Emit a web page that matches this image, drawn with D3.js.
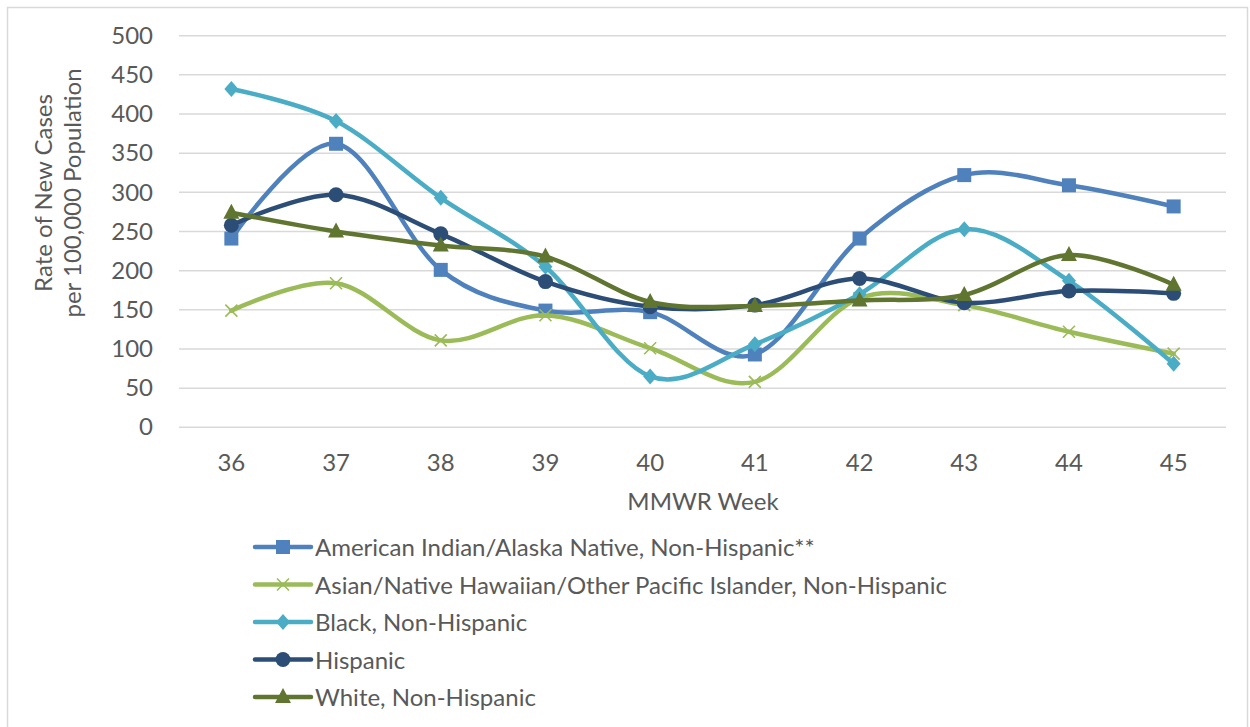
<!DOCTYPE html>
<html><head><meta charset="utf-8">
<script src="https://cdn.jsdelivr.net/npm/d3@7"></script>
<style>body{margin:0;background:#fff}svg{display:block}text{font-family:Lato,"Open Sans",sans-serif;fill:#595959}</style>
</head><body>
<script>
const weeks = [36,37,38,39,40,41,42,43,44,45];
const yTicks = [0,50,100,150,200,250,300,350,400,450,500];
const seriesNames = ["American Indian/Alaska Native, Non-Hispanic**","Asian/Native Hawaiian/Other Pacific Islander, Non-Hispanic","Black, Non-Hispanic","Hispanic","White, Non-Hispanic"];
const aian     = [241,362,201,149,147,93,241,322,309,282];
const asian    = [149,184,111,143,101,58,165,156,122,94];
const black    = [432,391,293,205,65,106,170,253,187,81];
const hispanic = [258,297,247,186,154,156,190,159,174,171];
const white    = [274,250,232,218,160,155,162,169,220,182];
const seriesValues = [aian, asian, black, hispanic, white];
const colors = ["#4F81BD","#9BBB59","#4BACC6","#2C4D75","#5F7530"];
const markers = ["square","x","diamond","circle","triangle"];

const W=1250,H=727;
const svg=d3.select("body").append("svg").attr("width",W).attr("height",H);
svg.append("rect").attr("x",7.5).attr("y",7.5).attr("width",W-10).attr("height",H+10).attr("fill","#fff").attr("stroke","#d9d9d9").attr("stroke-width",1.5);

const x=d3.scaleBand().domain(weeks).range([179,1226]);
const cx=d=>x(d)+x.bandwidth()/2;
const y=d3.scaleLinear().domain([0,500]).range([427.3,35.7]);

// gridlines
svg.append("g").selectAll("line").data(yTicks).join("line")
  .attr("x1",179).attr("x2",1226).attr("y1",d=>y(d)).attr("y2",d=>y(d))
  .attr("stroke","#d9d9d9").attr("stroke-width",1.5);

// y axis
const ya=svg.append("g").attr("transform","translate(179,0)").call(d3.axisLeft(y).tickValues(yTicks).tickSize(0).tickPadding(26));
ya.select(".domain").remove();
ya.selectAll("text").attr("font-size",24).style("font-family","Lato").attr("fill","#595959");
// x axis
const xa=svg.append("g").attr("transform","translate(0,427.3)").call(d3.axisBottom(x).tickSize(0).tickPadding(27));
xa.select(".domain").remove();
xa.selectAll("text").attr("font-size",24).style("font-family","Lato").attr("fill","#595959");

// titles
svg.append("text").attr("x",703).attr("y",510).attr("text-anchor","middle").attr("font-size",24).text("MMWR Week");
const yt=svg.append("text").attr("transform","rotate(-90)").attr("text-anchor","middle").attr("font-size",24);
yt.append("tspan").attr("x",-193).attr("y",52).text("Rate of New Cases");
yt.append("tspan").attr("x",-193).attr("y",81).text("per 100,000 Population");

const line=d3.line().x((d,i)=>cx(weeks[i])).y(d=>y(d)).curve(d3.curveCatmullRom.alpha(0));

function drawMarker(g,type,color,px,py){
  if(type==="square") g.append("rect").attr("x",px-7).attr("y",py-7).attr("width",14).attr("height",14).attr("fill",color);
  else if(type==="circle") g.append("circle").attr("cx",px).attr("cy",py).attr("r",7.5).attr("fill",color);
  else if(type==="diamond") g.append("path").attr("d",`M${px},${py-8}L${px+7},${py}L${px},${py+8}L${px-7},${py}Z`).attr("fill",color);
  else if(type==="triangle") g.append("path").attr("d",`M${px},${py-9}L${px+8},${py+6}L${px-8},${py+6}Z`).attr("fill",color);
  else if(type==="x") g.append("path").attr("d",`M${px-6},${py-6}L${px+6},${py+6}M${px+6},${py-6}L${px-6},${py+6}`).attr("stroke",color).attr("stroke-width",1.6).attr("fill","none");
}

seriesValues.forEach((vals,k)=>{
  const g=svg.append("g");
  g.append("path").attr("d",line(vals)).attr("fill","none").attr("stroke",colors[k]).attr("stroke-width",4.5).attr("stroke-linecap","round");
  vals.forEach((v,i)=>drawMarker(g,markers[k],colors[k],cx(weeks[i]),y(v)));
});

// legend
const lg=svg.append("g");
seriesNames.forEach((n,k)=>{
  const ly=547+k*37.5;
  const g=lg.append("g");
  g.append("line").attr("x1",255).attr("x2",311).attr("y1",ly).attr("y2",ly).attr("stroke",colors[k]).attr("stroke-width",4.5).attr("stroke-linecap","round");
  drawMarker(g,markers[k],colors[k],283,ly);
  g.append("text").attr("x",315).attr("y",ly+9).attr("font-size",24).text(n);
});
</script>
</body></html>
